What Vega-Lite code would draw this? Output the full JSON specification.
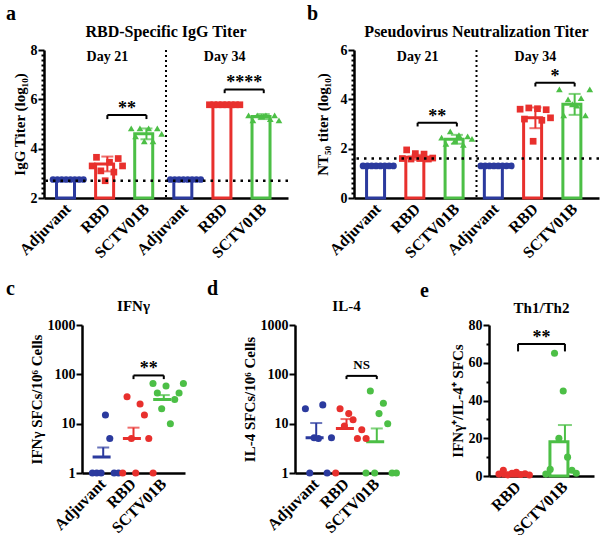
{
  "$schema": "https://vega.github.io/schema/vega-lite/v6.json",
  "padding": {"left": 6, "top": 4, "right": 0, "bottom": 0},
  "config": {
    "font": "Liberation Serif",
    "view": {"stroke": null},
    "axis": {"domainColor": "black", "domainWidth": 2.5, "tickColor": "black", "tickWidth": 2, "tickSize": 6, "labelFont": "Liberation Serif", "labelFontWeight": "bold", "labelFontSize": 14, "labelColor": "black", "titleFont": "Liberation Serif", "titleFontWeight": "bold", "titleFontSize": 15, "titleColor": "black", "grid": false, "labelFlush": false, "labelOverlap": false},
    "axisY": {"labelPadding": 1, "titlePadding": 3},
    "axisX": {"labelFontSize": 16, "labelPadding": 8},
    "title": {"font": "Liberation Serif", "fontWeight": "bold", "color": "black"}
  },
  "datasets": {
    "none": [],
    "aSum": [
      {"slot": "A21", "grp": "Adjuvant", "v": 2.75, "lo": 2.75, "hi": 2.75},
      {"slot": "R21", "grp": "RBD", "v": 3.38, "lo": 3.08, "hi": 3.68},
      {"slot": "S21", "grp": "SCTV01B", "v": 4.6, "lo": 4.38, "hi": 4.82},
      {"slot": "A34", "grp": "Adjuvant", "v": 2.75, "lo": 2.75, "hi": 2.75},
      {"slot": "R34", "grp": "RBD", "v": 5.8, "lo": 5.78, "hi": 5.82},
      {"slot": "S34", "grp": "SCTV01B", "v": 5.3, "lo": 5.2, "hi": 5.4}
    ],
    "aPts": [
      {"slot": "A21", "grp": "Adjuvant", "id": 1, "v": 2.75}, {"slot": "A21", "grp": "Adjuvant", "id": 2, "v": 2.75}, {"slot": "A21", "grp": "Adjuvant", "id": 3, "v": 2.75}, {"slot": "A21", "grp": "Adjuvant", "id": 4, "v": 2.75},
      {"slot": "A21", "grp": "Adjuvant", "id": 5, "v": 2.75}, {"slot": "A21", "grp": "Adjuvant", "id": 6, "v": 2.75}, {"slot": "A21", "grp": "Adjuvant", "id": 7, "v": 2.75}, {"slot": "A21", "grp": "Adjuvant", "id": 8, "v": 2.75},
      {"slot": "R21", "grp": "RBD", "id": 1, "v": 3.3}, {"slot": "R21", "grp": "RBD", "id": 2, "v": 3.65}, {"slot": "R21", "grp": "RBD", "id": 3, "v": 3.1}, {"slot": "R21", "grp": "RBD", "id": 4, "v": 2.7},
      {"slot": "R21", "grp": "RBD", "id": 5, "v": 3.45}, {"slot": "R21", "grp": "RBD", "id": 6, "v": 3.05}, {"slot": "R21", "grp": "RBD", "id": 7, "v": 3.6}, {"slot": "R21", "grp": "RBD", "id": 8, "v": 3.3},
      {"slot": "S21", "grp": "SCTV01B", "id": 1, "v": 4.82}, {"slot": "S21", "grp": "SCTV01B", "id": 2, "v": 4.5}, {"slot": "S21", "grp": "SCTV01B", "id": 3, "v": 4.82}, {"slot": "S21", "grp": "SCTV01B", "id": 4, "v": 4.3},
      {"slot": "S21", "grp": "SCTV01B", "id": 5, "v": 4.82}, {"slot": "S21", "grp": "SCTV01B", "id": 6, "v": 4.3}, {"slot": "S21", "grp": "SCTV01B", "id": 7, "v": 4.82}, {"slot": "S21", "grp": "SCTV01B", "id": 8, "v": 4.6},
      {"slot": "A34", "grp": "Adjuvant", "id": 1, "v": 2.75}, {"slot": "A34", "grp": "Adjuvant", "id": 2, "v": 2.75}, {"slot": "A34", "grp": "Adjuvant", "id": 3, "v": 2.75}, {"slot": "A34", "grp": "Adjuvant", "id": 4, "v": 2.75},
      {"slot": "A34", "grp": "Adjuvant", "id": 5, "v": 2.75}, {"slot": "A34", "grp": "Adjuvant", "id": 6, "v": 2.75}, {"slot": "A34", "grp": "Adjuvant", "id": 7, "v": 2.75}, {"slot": "A34", "grp": "Adjuvant", "id": 8, "v": 2.75},
      {"slot": "R34", "grp": "RBD", "id": 1, "v": 5.78}, {"slot": "R34", "grp": "RBD", "id": 2, "v": 5.78}, {"slot": "R34", "grp": "RBD", "id": 3, "v": 5.78}, {"slot": "R34", "grp": "RBD", "id": 4, "v": 5.78},
      {"slot": "R34", "grp": "RBD", "id": 5, "v": 5.78}, {"slot": "R34", "grp": "RBD", "id": 6, "v": 5.78}, {"slot": "R34", "grp": "RBD", "id": 7, "v": 5.78}, {"slot": "R34", "grp": "RBD", "id": 8, "v": 5.78},
      {"slot": "S34", "grp": "SCTV01B", "id": 1, "v": 5.35}, {"slot": "S34", "grp": "SCTV01B", "id": 2, "v": 5.15}, {"slot": "S34", "grp": "SCTV01B", "id": 3, "v": 5.35}, {"slot": "S34", "grp": "SCTV01B", "id": 4, "v": 5.3},
      {"slot": "S34", "grp": "SCTV01B", "id": 5, "v": 5.35}, {"slot": "S34", "grp": "SCTV01B", "id": 6, "v": 5.2}, {"slot": "S34", "grp": "SCTV01B", "id": 7, "v": 5.35}, {"slot": "S34", "grp": "SCTV01B", "id": 8, "v": 5.15}
    ],
    "aBr": [
      {"from": "R21", "to": "S21", "v": 5.36, "ve": 5.2, "sig": "**"},
      {"from": "R34", "to": "S34", "v": 6.4, "ve": 6.25, "sig": "****"}
    ],
    "aDay": [{"slot": "R21", "label": "Day 21", "v": 7.55}, {"slot": "R34", "label": "Day 34", "v": 7.55}],
    "aLod": [{"v": 2.7}],
    "sep": [{"slot": "A34"}],
    "bSum": [
      {"slot": "A21", "grp": "Adjuvant", "v": 1.3, "lo": 1.3, "hi": 1.3},
      {"slot": "R21", "grp": "RBD", "v": 1.65, "lo": 1.55, "hi": 1.75},
      {"slot": "S21", "grp": "SCTV01B", "v": 2.38, "lo": 2.2, "hi": 2.56},
      {"slot": "A34", "grp": "Adjuvant", "v": 1.3, "lo": 1.3, "hi": 1.3},
      {"slot": "R34", "grp": "RBD", "v": 3.25, "lo": 2.83, "hi": 3.67},
      {"slot": "S34", "grp": "SCTV01B", "v": 3.8, "lo": 3.37, "hi": 4.22}
    ],
    "bPts": [
      {"slot": "A21", "grp": "Adjuvant", "id": 1, "v": 1.3}, {"slot": "A21", "grp": "Adjuvant", "id": 2, "v": 1.3}, {"slot": "A21", "grp": "Adjuvant", "id": 3, "v": 1.3}, {"slot": "A21", "grp": "Adjuvant", "id": 4, "v": 1.3},
      {"slot": "A21", "grp": "Adjuvant", "id": 5, "v": 1.3}, {"slot": "A21", "grp": "Adjuvant", "id": 6, "v": 1.3}, {"slot": "A21", "grp": "Adjuvant", "id": 7, "v": 1.3}, {"slot": "A21", "grp": "Adjuvant", "id": 8, "v": 1.3},
      {"slot": "R21", "grp": "RBD", "id": 1, "v": 1.6}, {"slot": "R21", "grp": "RBD", "id": 2, "v": 1.95}, {"slot": "R21", "grp": "RBD", "id": 3, "v": 1.58}, {"slot": "R21", "grp": "RBD", "id": 4, "v": 1.8},
      {"slot": "R21", "grp": "RBD", "id": 5, "v": 1.6}, {"slot": "R21", "grp": "RBD", "id": 6, "v": 1.78}, {"slot": "R21", "grp": "RBD", "id": 7, "v": 1.58}, {"slot": "R21", "grp": "RBD", "id": 8, "v": 1.62},
      {"slot": "S21", "grp": "SCTV01B", "id": 1, "v": 2.45}, {"slot": "S21", "grp": "SCTV01B", "id": 2, "v": 2.2}, {"slot": "S21", "grp": "SCTV01B", "id": 3, "v": 2.7}, {"slot": "S21", "grp": "SCTV01B", "id": 4, "v": 2.3},
      {"slot": "S21", "grp": "SCTV01B", "id": 5, "v": 2.55}, {"slot": "S21", "grp": "SCTV01B", "id": 6, "v": 2.15}, {"slot": "S21", "grp": "SCTV01B", "id": 7, "v": 2.5}, {"slot": "S21", "grp": "SCTV01B", "id": 8, "v": 2.4},
      {"slot": "A34", "grp": "Adjuvant", "id": 1, "v": 1.3}, {"slot": "A34", "grp": "Adjuvant", "id": 2, "v": 1.3}, {"slot": "A34", "grp": "Adjuvant", "id": 3, "v": 1.3}, {"slot": "A34", "grp": "Adjuvant", "id": 4, "v": 1.3},
      {"slot": "A34", "grp": "Adjuvant", "id": 5, "v": 1.3}, {"slot": "A34", "grp": "Adjuvant", "id": 6, "v": 1.3}, {"slot": "A34", "grp": "Adjuvant", "id": 7, "v": 1.3}, {"slot": "A34", "grp": "Adjuvant", "id": 8, "v": 1.3},
      {"slot": "R34", "grp": "RBD", "id": 1, "v": 3.6}, {"slot": "R34", "grp": "RBD", "id": 2, "v": 3.2}, {"slot": "R34", "grp": "RBD", "id": 3, "v": 3.65}, {"slot": "R34", "grp": "RBD", "id": 4, "v": 2.3},
      {"slot": "R34", "grp": "RBD", "id": 5, "v": 3.62}, {"slot": "R34", "grp": "RBD", "id": 6, "v": 3.15}, {"slot": "R34", "grp": "RBD", "id": 7, "v": 3.58}, {"slot": "R34", "grp": "RBD", "id": 8, "v": 3.25},
      {"slot": "S34", "grp": "SCTV01B", "id": 1, "v": 4.4}, {"slot": "S34", "grp": "SCTV01B", "id": 2, "v": 3.35}, {"slot": "S34", "grp": "SCTV01B", "id": 3, "v": 4.0}, {"slot": "S34", "grp": "SCTV01B", "id": 4, "v": 3.8},
      {"slot": "S34", "grp": "SCTV01B", "id": 5, "v": 3.75}, {"slot": "S34", "grp": "SCTV01B", "id": 6, "v": 4.05}, {"slot": "S34", "grp": "SCTV01B", "id": 7, "v": 3.35}, {"slot": "S34", "grp": "SCTV01B", "id": 8, "v": 4.4}
    ],
    "bBr": [
      {"from": "R21", "to": "S21", "v": 3.05, "ve": 2.9, "sig": "**"},
      {"from": "R34", "to": "S34", "v": 4.67, "ve": 4.52, "sig": "*"}
    ],
    "bDay": [{"slot": "R21", "label": "Day 21", "v": 5.55}, {"slot": "R34", "label": "Day 34", "v": 5.55}],
    "bLod": [{"v": 1.6}],
    "cSum": [
      {"slot": "Adjuvant", "grp": "Adjuvant", "v": 2.1, "lo": 2.1, "hi": 3.3},
      {"slot": "RBD", "grp": "RBD", "v": 5, "lo": 5, "hi": 8.3},
      {"slot": "SCTV01B", "grp": "SCTV01B", "v": 31, "lo": 31, "hi": 38}
    ],
    "cPts": [
      {"slot": "Adjuvant", "grp": "Adjuvant", "id": 1, "v": 1}, {"slot": "Adjuvant", "grp": "Adjuvant", "id": 2, "v": 1}, {"slot": "Adjuvant", "grp": "Adjuvant", "id": 3, "v": 1}, {"slot": "Adjuvant", "grp": "Adjuvant", "id": 4, "v": 15},
      {"slot": "Adjuvant", "grp": "Adjuvant", "id": 5, "v": 5}, {"slot": "Adjuvant", "grp": "Adjuvant", "id": 6, "v": 1}, {"slot": "Adjuvant", "grp": "Adjuvant", "id": 7, "v": 1},
      {"slot": "RBD", "grp": "RBD", "id": 1, "v": 1}, {"slot": "RBD", "grp": "RBD", "id": 2, "v": 35}, {"slot": "RBD", "grp": "RBD", "id": 3, "v": 5}, {"slot": "RBD", "grp": "RBD", "id": 4, "v": 1},
      {"slot": "RBD", "grp": "RBD", "id": 5, "v": 25}, {"slot": "RBD", "grp": "RBD", "id": 6, "v": 15}, {"slot": "RBD", "grp": "RBD", "id": 7, "v": 5}, {"slot": "RBD", "grp": "RBD", "id": 8, "v": 1},
      {"slot": "SCTV01B", "grp": "SCTV01B", "id": 1, "v": 65}, {"slot": "SCTV01B", "grp": "SCTV01B", "id": 2, "v": 42}, {"slot": "SCTV01B", "grp": "SCTV01B", "id": 3, "v": 20}, {"slot": "SCTV01B", "grp": "SCTV01B", "id": 4, "v": 58},
      {"slot": "SCTV01B", "grp": "SCTV01B", "id": 5, "v": 10}, {"slot": "SCTV01B", "grp": "SCTV01B", "id": 6, "v": 31}, {"slot": "SCTV01B", "grp": "SCTV01B", "id": 7, "v": 42}, {"slot": "SCTV01B", "grp": "SCTV01B", "id": 8, "v": 65}
    ],
    "cBr": [{"from": "RBD", "to": "SCTV01B", "v": 95, "ve": 80, "sig": "**"}],
    "dSum": [
      {"slot": "Adjuvant", "grp": "Adjuvant", "v": 5.2, "lo": 5.2, "hi": 10.3},
      {"slot": "RBD", "grp": "RBD", "v": 8, "lo": 8, "hi": 12.4},
      {"slot": "SCTV01B", "grp": "SCTV01B", "v": 4.3, "lo": 4.3, "hi": 8}
    ],
    "dPts": [
      {"slot": "Adjuvant", "grp": "Adjuvant", "id": 1, "v": 20}, {"slot": "Adjuvant", "grp": "Adjuvant", "id": 2, "v": 1}, {"slot": "Adjuvant", "grp": "Adjuvant", "id": 3, "v": 5.2}, {"slot": "Adjuvant", "grp": "Adjuvant", "id": 4, "v": 5},
      {"slot": "Adjuvant", "grp": "Adjuvant", "id": 5, "v": 24}, {"slot": "Adjuvant", "grp": "Adjuvant", "id": 6, "v": 1}, {"slot": "Adjuvant", "grp": "Adjuvant", "id": 7, "v": 5.2},
      {"slot": "RBD", "grp": "RBD", "id": 1, "v": 1}, {"slot": "RBD", "grp": "RBD", "id": 2, "v": 20}, {"slot": "RBD", "grp": "RBD", "id": 3, "v": 9}, {"slot": "RBD", "grp": "RBD", "id": 4, "v": 16},
      {"slot": "RBD", "grp": "RBD", "id": 5, "v": 12}, {"slot": "RBD", "grp": "RBD", "id": 6, "v": 5}, {"slot": "RBD", "grp": "RBD", "id": 7, "v": 7.5}, {"slot": "RBD", "grp": "RBD", "id": 8, "v": 5},
      {"slot": "SCTV01B", "grp": "SCTV01B", "id": 1, "v": 1}, {"slot": "SCTV01B", "grp": "SCTV01B", "id": 2, "v": 46}, {"slot": "SCTV01B", "grp": "SCTV01B", "id": 3, "v": 1}, {"slot": "SCTV01B", "grp": "SCTV01B", "id": 4, "v": 16},
      {"slot": "SCTV01B", "grp": "SCTV01B", "id": 5, "v": 26}, {"slot": "SCTV01B", "grp": "SCTV01B", "id": 6, "v": 10}, {"slot": "SCTV01B", "grp": "SCTV01B", "id": 7, "v": 1}, {"slot": "SCTV01B", "grp": "SCTV01B", "id": 8, "v": 1}
    ],
    "dBr": [{"from": "RBD", "to": "SCTV01B", "v": 93, "ve": 80, "sig": "NS"}],
    "eSum": [
      {"slot": "RBD", "grp": "RBD", "v": 1.4, "lo": 1.4, "hi": 1.4},
      {"slot": "SCTV01B", "grp": "SCTV01B", "v": 18.1, "lo": 18.1, "hi": 27}
    ],
    "ePts": [
      {"slot": "RBD", "grp": "RBD", "id": 1, "v": 1}, {"slot": "RBD", "grp": "RBD", "id": 2, "v": 3}, {"slot": "RBD", "grp": "RBD", "id": 3, "v": 0.6}, {"slot": "RBD", "grp": "RBD", "id": 4, "v": 1.5},
      {"slot": "RBD", "grp": "RBD", "id": 5, "v": 2}, {"slot": "RBD", "grp": "RBD", "id": 6, "v": 0.8}, {"slot": "RBD", "grp": "RBD", "id": 7, "v": 1.2}, {"slot": "RBD", "grp": "RBD", "id": 8, "v": 0.5},
      {"slot": "SCTV01B", "grp": "SCTV01B", "id": 1, "v": 1}, {"slot": "SCTV01B", "grp": "SCTV01B", "id": 2, "v": 3.5}, {"slot": "SCTV01B", "grp": "SCTV01B", "id": 3, "v": 65}, {"slot": "SCTV01B", "grp": "SCTV01B", "id": 4, "v": 20},
      {"slot": "SCTV01B", "grp": "SCTV01B", "id": 5, "v": 45}, {"slot": "SCTV01B", "grp": "SCTV01B", "id": 6, "v": 10}, {"slot": "SCTV01B", "grp": "SCTV01B", "id": 7, "v": 3}, {"slot": "SCTV01B", "grp": "SCTV01B", "id": 8, "v": 1.5}
    ],
    "eBr": [{"from": "RBD", "to": "SCTV01B", "v": 70, "ve": 66, "sig": "**"}]
  },
  "spacing": 18,
  "vconcat": [
    {
      "spacing": 17,
      "hconcat": [
        {
          "title": {"text": "a", "anchor": "start", "fontSize": 20, "offset": 0},
          "spacing": 0,
          "hconcat": [
            {"data": {"name": "none"}, "mark": "point", "width": 6, "height": 10},
            {
            "title": {"text": "RBD-Specific IgG Titer", "fontSize": 16, "offset": 3},
            "width": 244, "height": 148,
            "layer": [
              {"data": {"name": "aSum"}, "mark": {"type": "bar", "fill": "white", "strokeWidth": 3, "width": {"band": 0.6}},
               "encoding": {
                 "x": {"field": "slot", "type": "nominal", "scale": {"domain": ["A21", "R21", "S21", "A34", "R34", "S34"], "paddingInner": 0, "paddingOuter": 0.12},
                       "axis": {"title": null, "labelAngle": -45, "labelAlign": "right", "labelBaseline": "middle", "ticks": false, "labelExpr": "substring(datum.value,0,1)=='A' ? 'Adjuvant' : substring(datum.value,0,1)=='R' ? 'RBD' : 'SCTV01B'"}},
                 "y": {"field": "v", "type": "quantitative", "scale": {"domain": [2, 8], "nice": false, "zero": false, "clamp": true},
                       "axis": {"title": "IgG Titer (log₁₀)", "labelOverlap": false, "tickCount": 200, "values": [2,2.2,2.4,2.6,2.8,3,3.2,3.4,3.6,3.8,4,4.2,4.4,4.6,4.8,5,5.2,5.4,5.6,5.8,6,6.2,6.4,6.6,6.8,7,7.2,7.4,7.6,7.8,8],
                                "labelExpr": "datum.value % 2 == 0 ? format(datum.value, 'd') : ''", "tickDash": {"condition": {"test": "datum.value % 2 == 0", "value": [6, 0]}, "value": [3, 10]}}},
                 "stroke": {"field": "grp", "type": "nominal", "scale": {"domain": ["Adjuvant", "RBD", "SCTV01B"], "range": ["#2b3a9e", "#e8302d", "#4cbf46"]}, "legend": null}
               }},
              {"data": {"name": "aSum"}, "mark": {"type": "rule", "strokeWidth": 2},
               "encoding": {"x": {"field": "slot", "type": "nominal"}, "y": {"field": "lo", "type": "quantitative"}, "y2": {"field": "hi"},
                 "color": {"field": "grp", "type": "nominal", "scale": {"domain": ["Adjuvant", "RBD", "SCTV01B"], "range": ["#2b3a9e", "#e8302d", "#4cbf46"]}, "legend": null}}},
              {"data": {"name": "aSum"}, "mark": {"type": "tick", "thickness": 2, "size": 12},
               "encoding": {"x": {"field": "slot", "type": "nominal"}, "y": {"field": "hi", "type": "quantitative"},
                 "color": {"field": "grp", "type": "nominal", "scale": {"domain": ["Adjuvant", "RBD", "SCTV01B"], "range": ["#2b3a9e", "#e8302d", "#4cbf46"]}, "legend": null}}},
              {"data": {"name": "aSum"}, "mark": {"type": "tick", "thickness": 2, "size": 12},
               "encoding": {"x": {"field": "slot", "type": "nominal"}, "y": {"field": "lo", "type": "quantitative"},
                 "color": {"field": "grp", "type": "nominal", "scale": {"domain": ["Adjuvant", "RBD", "SCTV01B"], "range": ["#2b3a9e", "#e8302d", "#4cbf46"]}, "legend": null}}},
              {"data": {"name": "aPts"}, "mark": {"type": "point", "filled": true, "size": 45, "opacity": 1},
               "encoding": {"x": {"field": "slot", "type": "nominal"}, "xOffset": {"field": "id", "type": "ordinal", "scale": {"type": "point", "padding": 5}},
                 "y": {"field": "v", "type": "quantitative"},
                 "color": {"field": "grp", "type": "nominal", "scale": {"domain": ["Adjuvant", "RBD", "SCTV01B"], "range": ["#2b3a9e", "#e8302d", "#4cbf46"]}, "legend": null},
                 "shape": {"field": "grp", "type": "nominal", "scale": {"domain": ["Adjuvant", "RBD", "SCTV01B"], "range": ["circle", "square", "triangle-up"]}, "legend": null}}},
              {"data": {"name": "aLod"}, "mark": {"type": "rule", "strokeDash": [2.5, 5], "strokeWidth": 2.5, "color": "black"},
               "encoding": {"y": {"field": "v", "type": "quantitative"}}},
              {"data": {"name": "sep"}, "mark": {"type": "rule", "strokeDash": [2, 3], "strokeWidth": 2, "color": "black"},
               "encoding": {"x": {"field": "slot", "type": "nominal", "bandPosition": 0}}},
              {"data": {"name": "aDay"}, "mark": {"type": "text", "fontSize": 14, "fontWeight": "bold", "baseline": "alphabetic", "color": "black"},
               "encoding": {"x": {"field": "slot", "type": "nominal"}, "y": {"field": "v", "type": "quantitative"}, "text": {"field": "label"}}},
              {"data": {"name": "aBr"}, "mark": {"type": "rule", "strokeWidth": 2, "color": "black"},
               "encoding": {"x": {"field": "from", "type": "nominal"}, "x2": {"field": "to"}, "y": {"field": "v", "type": "quantitative"}}},
              {"data": {"name": "aBr"}, "mark": {"type": "rule", "strokeWidth": 2, "color": "black"},
               "encoding": {"x": {"field": "from", "type": "nominal"}, "y": {"field": "v", "type": "quantitative"}, "y2": {"field": "ve"}}},
              {"data": {"name": "aBr"}, "mark": {"type": "rule", "strokeWidth": 2, "color": "black"},
               "encoding": {"x": {"field": "to", "type": "nominal"}, "y": {"field": "v", "type": "quantitative"}, "y2": {"field": "ve"}}},
              {"data": {"name": "aBr"}, "mark": {"type": "text", "fontSize": 18, "fontWeight": "bold", "baseline": "alphabetic", "dy": -1, "color": "black"},
               "encoding": {"x": {"field": "to", "type": "nominal", "bandPosition": 0}, "y": {"field": "v", "type": "quantitative"}, "text": {"field": "sig"}}}
            ]
          }]
        },
        {
          "title": {"text": "b", "anchor": "start", "fontSize": 20, "offset": 0},
          "spacing": 0,
          "hconcat": [
            {"data": {"name": "none"}, "mark": "point", "width": 8, "height": 10},
            {
            "title": {"text": "Pseudovirus Neutralization Titer", "fontSize": 16, "offset": 3},
            "width": 245, "height": 148,
            "layer": [
              {"data": {"name": "bSum"}, "mark": {"type": "bar", "fill": "white", "strokeWidth": 3, "width": {"band": 0.6}},
               "encoding": {
                 "x": {"field": "slot", "type": "nominal", "scale": {"domain": ["A21", "R21", "S21", "A34", "R34", "S34"], "paddingInner": 0, "paddingOuter": 0.12},
                       "axis": {"title": null, "labelAngle": -45, "labelAlign": "right", "labelBaseline": "middle", "ticks": false, "labelExpr": "substring(datum.value,0,1)=='A' ? 'Adjuvant' : substring(datum.value,0,1)=='R' ? 'RBD' : 'SCTV01B'"}},
                 "y": {"field": "v", "type": "quantitative", "scale": {"domain": [0, 6], "nice": false},
                       "axis": {"title": "NT₅₀ titer (log₁₀)", "titlePadding": 10, "labelOverlap": false, "tickCount": 200, "values": [0,0.2,0.4,0.6,0.8,1,1.2,1.4,1.6,1.8,2,2.2,2.4,2.6,2.8,3,3.2,3.4,3.6,3.8,4,4.2,4.4,4.6,4.8,5,5.2,5.4,5.6,5.8,6],
                                "labelExpr": "datum.value % 2 == 0 ? format(datum.value, 'd') : ''", "tickDash": {"condition": {"test": "datum.value % 2 == 0", "value": [6, 0]}, "value": [3, 10]}}},
                 "stroke": {"field": "grp", "type": "nominal", "scale": {"domain": ["Adjuvant", "RBD", "SCTV01B"], "range": ["#2b3a9e", "#e8302d", "#4cbf46"]}, "legend": null}
               }},
              {"data": {"name": "bSum"}, "mark": {"type": "rule", "strokeWidth": 2},
               "encoding": {"x": {"field": "slot", "type": "nominal"}, "y": {"field": "lo", "type": "quantitative"}, "y2": {"field": "hi"},
                 "color": {"field": "grp", "type": "nominal", "scale": {"domain": ["Adjuvant", "RBD", "SCTV01B"], "range": ["#2b3a9e", "#e8302d", "#4cbf46"]}, "legend": null}}},
              {"data": {"name": "bSum"}, "mark": {"type": "tick", "thickness": 2, "size": 12},
               "encoding": {"x": {"field": "slot", "type": "nominal"}, "y": {"field": "hi", "type": "quantitative"},
                 "color": {"field": "grp", "type": "nominal", "scale": {"domain": ["Adjuvant", "RBD", "SCTV01B"], "range": ["#2b3a9e", "#e8302d", "#4cbf46"]}, "legend": null}}},
              {"data": {"name": "bSum"}, "mark": {"type": "tick", "thickness": 2, "size": 12},
               "encoding": {"x": {"field": "slot", "type": "nominal"}, "y": {"field": "lo", "type": "quantitative"},
                 "color": {"field": "grp", "type": "nominal", "scale": {"domain": ["Adjuvant", "RBD", "SCTV01B"], "range": ["#2b3a9e", "#e8302d", "#4cbf46"]}, "legend": null}}},
              {"data": {"name": "bPts"}, "mark": {"type": "point", "filled": true, "size": 45, "opacity": 1},
               "encoding": {"x": {"field": "slot", "type": "nominal"}, "xOffset": {"field": "id", "type": "ordinal", "scale": {"type": "point", "padding": 5}},
                 "y": {"field": "v", "type": "quantitative"},
                 "color": {"field": "grp", "type": "nominal", "scale": {"domain": ["Adjuvant", "RBD", "SCTV01B"], "range": ["#2b3a9e", "#e8302d", "#4cbf46"]}, "legend": null},
                 "shape": {"field": "grp", "type": "nominal", "scale": {"domain": ["Adjuvant", "RBD", "SCTV01B"], "range": ["circle", "square", "triangle-up"]}, "legend": null}}},
              {"data": {"name": "bLod"}, "mark": {"type": "rule", "strokeDash": [2.5, 5], "strokeWidth": 2.5, "color": "black"},
               "encoding": {"y": {"field": "v", "type": "quantitative"}}},
              {"data": {"name": "sep"}, "mark": {"type": "rule", "strokeDash": [2, 3], "strokeWidth": 2, "color": "black"},
               "encoding": {"x": {"field": "slot", "type": "nominal", "bandPosition": 0}}},
              {"data": {"name": "bDay"}, "mark": {"type": "text", "fontSize": 14, "fontWeight": "bold", "baseline": "alphabetic", "color": "black"},
               "encoding": {"x": {"field": "slot", "type": "nominal"}, "y": {"field": "v", "type": "quantitative"}, "text": {"field": "label"}}},
              {"data": {"name": "bBr"}, "mark": {"type": "rule", "strokeWidth": 2, "color": "black"},
               "encoding": {"x": {"field": "from", "type": "nominal"}, "x2": {"field": "to"}, "y": {"field": "v", "type": "quantitative"}}},
              {"data": {"name": "bBr"}, "mark": {"type": "rule", "strokeWidth": 2, "color": "black"},
               "encoding": {"x": {"field": "from", "type": "nominal"}, "y": {"field": "v", "type": "quantitative"}, "y2": {"field": "ve"}}},
              {"data": {"name": "bBr"}, "mark": {"type": "rule", "strokeWidth": 2, "color": "black"},
               "encoding": {"x": {"field": "to", "type": "nominal"}, "y": {"field": "v", "type": "quantitative"}, "y2": {"field": "ve"}}},
              {"data": {"name": "bBr"}, "mark": {"type": "text", "fontSize": 18, "fontWeight": "bold", "baseline": "alphabetic", "dy": -1, "color": "black"},
               "encoding": {"x": {"field": "to", "type": "nominal", "bandPosition": 0}, "y": {"field": "v", "type": "quantitative"}, "text": {"field": "sig"}}}
            ]
          }]
        }
      ]
    },
    {
      "spacing": 20,
      "hconcat": [
        {
          "title": {"text": "c", "anchor": "start", "fontSize": 20, "offset": 0},
          "spacing": 0,
          "hconcat": [
            {"data": {"name": "none"}, "mark": "point", "width": 22, "height": 10},
            {
            "title": {"text": "IFNγ", "fontSize": 15, "offset": 4},
            "width": 103, "height": 148,
            "layer": [
              {"data": {"name": "cSum"}, "mark": {"type": "bar", "fill": "white", "strokeWidth": 3, "width": {"band": 0.7}},
               "encoding": {
                 "x": {"field": "slot", "type": "nominal", "scale": {"domain": ["Adjuvant", "RBD", "SCTV01B"], "paddingInner": 0, "paddingOuter": 0.2},
                       "axis": {"title": null, "labelAngle": -45, "labelAlign": "right", "labelBaseline": "middle", "ticks": false}},
                 "y": {"field": "v", "type": "quantitative", "scale": {"type": "log", "domain": [1, 1000], "nice": false},
                       "axis": {"title": "IFNγ SFCs/10⁶ Cells", "values": [1, 10, 100, 1000], "format": "d"}},
                 "stroke": {"field": "grp", "type": "nominal", "scale": {"domain": ["Adjuvant", "RBD", "SCTV01B"], "range": ["#2b3a9e", "#e8302d", "#4cbf46"]}, "legend": null}
               }},
              {"data": {"name": "cSum"}, "mark": {"type": "rule", "strokeWidth": 2},
               "encoding": {"x": {"field": "slot", "type": "nominal"}, "y": {"field": "lo", "type": "quantitative"}, "y2": {"field": "hi"},
                 "color": {"field": "grp", "type": "nominal", "scale": {"domain": ["Adjuvant", "RBD", "SCTV01B"], "range": ["#2b3a9e", "#e8302d", "#4cbf46"]}, "legend": null}}},
              {"data": {"name": "cSum"}, "mark": {"type": "tick", "thickness": 2, "size": 12},
               "encoding": {"x": {"field": "slot", "type": "nominal"}, "y": {"field": "hi", "type": "quantitative"},
                 "color": {"field": "grp", "type": "nominal", "scale": {"domain": ["Adjuvant", "RBD", "SCTV01B"], "range": ["#2b3a9e", "#e8302d", "#4cbf46"]}, "legend": null}}},
              {"data": {"name": "cPts"}, "mark": {"type": "circle", "size": 50, "opacity": 1},
               "encoding": {"x": {"field": "slot", "type": "nominal"}, "xOffset": {"field": "id", "type": "ordinal", "scale": {"type": "point", "padding": 3.5}},
                 "y": {"field": "v", "type": "quantitative"},
                 "color": {"field": "grp", "type": "nominal", "scale": {"domain": ["Adjuvant", "RBD", "SCTV01B"], "range": ["#2b3a9e", "#e8302d", "#4cbf46"]}, "legend": null}}},
              {"data": {"name": "cBr"}, "mark": {"type": "rule", "strokeWidth": 2, "color": "black"},
               "encoding": {"x": {"field": "from", "type": "nominal"}, "x2": {"field": "to"}, "y": {"field": "v", "type": "quantitative"}}},
              {"data": {"name": "cBr"}, "mark": {"type": "rule", "strokeWidth": 2, "color": "black"},
               "encoding": {"x": {"field": "from", "type": "nominal"}, "y": {"field": "v", "type": "quantitative"}, "y2": {"field": "ve"}}},
              {"data": {"name": "cBr"}, "mark": {"type": "rule", "strokeWidth": 2, "color": "black"},
               "encoding": {"x": {"field": "to", "type": "nominal"}, "y": {"field": "v", "type": "quantitative"}, "y2": {"field": "ve"}}},
              {"data": {"name": "cBr"}, "mark": {"type": "text", "fontSize": 18, "fontWeight": "bold", "baseline": "alphabetic", "dy": -1, "color": "black"},
               "encoding": {"x": {"field": "to", "type": "nominal", "bandPosition": 0}, "y": {"field": "v", "type": "quantitative"}, "text": {"field": "sig"}}}
            ]
          }]
        },
        {
          "title": {"text": "d", "anchor": "start", "fontSize": 20, "offset": 0},
          "spacing": 0,
          "hconcat": [
            {"data": {"name": "none"}, "mark": "point", "width": 34, "height": 10},
            {
            "title": {"text": "IL-4", "fontSize": 15, "offset": 4},
            "width": 103, "height": 148,
            "layer": [
              {"data": {"name": "dSum"}, "mark": {"type": "bar", "fill": "white", "strokeWidth": 3, "width": {"band": 0.7}},
               "encoding": {
                 "x": {"field": "slot", "type": "nominal", "scale": {"domain": ["Adjuvant", "RBD", "SCTV01B"], "paddingInner": 0, "paddingOuter": 0.2},
                       "axis": {"title": null, "labelAngle": -45, "labelAlign": "right", "labelBaseline": "middle", "ticks": false}},
                 "y": {"field": "v", "type": "quantitative", "scale": {"type": "log", "domain": [1, 1000], "nice": false},
                       "axis": {"title": "IL-4 SFCs/10⁶ Cells", "values": [1, 10, 100, 1000], "format": "d"}},
                 "stroke": {"field": "grp", "type": "nominal", "scale": {"domain": ["Adjuvant", "RBD", "SCTV01B"], "range": ["#2b3a9e", "#e8302d", "#4cbf46"]}, "legend": null}
               }},
              {"data": {"name": "dSum"}, "mark": {"type": "rule", "strokeWidth": 2},
               "encoding": {"x": {"field": "slot", "type": "nominal"}, "y": {"field": "lo", "type": "quantitative"}, "y2": {"field": "hi"},
                 "color": {"field": "grp", "type": "nominal", "scale": {"domain": ["Adjuvant", "RBD", "SCTV01B"], "range": ["#2b3a9e", "#e8302d", "#4cbf46"]}, "legend": null}}},
              {"data": {"name": "dSum"}, "mark": {"type": "tick", "thickness": 2, "size": 12},
               "encoding": {"x": {"field": "slot", "type": "nominal"}, "y": {"field": "hi", "type": "quantitative"},
                 "color": {"field": "grp", "type": "nominal", "scale": {"domain": ["Adjuvant", "RBD", "SCTV01B"], "range": ["#2b3a9e", "#e8302d", "#4cbf46"]}, "legend": null}}},
              {"data": {"name": "dPts"}, "mark": {"type": "circle", "size": 50, "opacity": 1},
               "encoding": {"x": {"field": "slot", "type": "nominal"}, "xOffset": {"field": "id", "type": "ordinal", "scale": {"type": "point", "padding": 3.5}},
                 "y": {"field": "v", "type": "quantitative"},
                 "color": {"field": "grp", "type": "nominal", "scale": {"domain": ["Adjuvant", "RBD", "SCTV01B"], "range": ["#2b3a9e", "#e8302d", "#4cbf46"]}, "legend": null}}},
              {"data": {"name": "dBr"}, "mark": {"type": "rule", "strokeWidth": 2, "color": "black"},
               "encoding": {"x": {"field": "from", "type": "nominal"}, "x2": {"field": "to"}, "y": {"field": "v", "type": "quantitative"}}},
              {"data": {"name": "dBr"}, "mark": {"type": "rule", "strokeWidth": 2, "color": "black"},
               "encoding": {"x": {"field": "from", "type": "nominal"}, "y": {"field": "v", "type": "quantitative"}, "y2": {"field": "ve"}}},
              {"data": {"name": "dBr"}, "mark": {"type": "rule", "strokeWidth": 2, "color": "black"},
               "encoding": {"x": {"field": "to", "type": "nominal"}, "y": {"field": "v", "type": "quantitative"}, "y2": {"field": "ve"}}},
              {"data": {"name": "dBr"}, "mark": {"type": "text", "fontSize": 13, "fontWeight": "bold", "baseline": "alphabetic", "dy": -7, "color": "black"},
               "encoding": {"x": {"field": "to", "type": "nominal", "bandPosition": 0}, "y": {"field": "v", "type": "quantitative"}, "text": {"field": "sig"}}}
            ]
          }]
        },
        {
          "title": {"text": "e", "anchor": "start", "fontSize": 20, "offset": 0},
          "spacing": 0,
          "hconcat": [
            {"data": {"name": "none"}, "mark": "point", "width": 30, "height": 10},
            {
            "title": {"text": "Th1/Th2", "fontSize": 15, "offset": 2},
            "width": 105, "height": 151,
            "layer": [
              {"data": {"name": "eSum"}, "mark": {"type": "bar", "fill": "white", "strokeWidth": 3, "width": {"band": 0.64}},
               "encoding": {
                 "x": {"field": "slot", "type": "nominal", "scale": {"domain": ["RBD", "SCTV01B"], "paddingInner": 0, "paddingOuter": 0.12},
                       "axis": {"title": null, "labelAngle": -45, "labelAlign": "right", "labelBaseline": "middle", "ticks": false}},
                 "y": {"field": "v", "type": "quantitative", "scale": {"domain": [0, 80], "nice": false},
                       "axis": {"title": "IFNγ⁺/IL-4⁺ SFCs", "labelOverlap": false, "tickCount": 100, "values": [0, 10, 20, 30, 40, 50, 60, 70, 80],
                                "labelExpr": "datum.value % 20 == 0 ? format(datum.value, 'd') : ''", "tickDash": {"condition": {"test": "datum.value % 20 == 0", "value": [6, 0]}, "value": [3, 10]}}},
                 "stroke": {"field": "grp", "type": "nominal", "scale": {"domain": ["Adjuvant", "RBD", "SCTV01B"], "range": ["#2b3a9e", "#e8302d", "#4cbf46"]}, "legend": null}
               }},
              {"data": {"name": "eSum"}, "mark": {"type": "rule", "strokeWidth": 2},
               "encoding": {"x": {"field": "slot", "type": "nominal"}, "y": {"field": "lo", "type": "quantitative"}, "y2": {"field": "hi"},
                 "color": {"field": "grp", "type": "nominal", "scale": {"domain": ["Adjuvant", "RBD", "SCTV01B"], "range": ["#2b3a9e", "#e8302d", "#4cbf46"]}, "legend": null}}},
              {"data": {"name": "eSum"}, "mark": {"type": "tick", "thickness": 2, "size": 14},
               "encoding": {"x": {"field": "slot", "type": "nominal"}, "y": {"field": "hi", "type": "quantitative"},
                 "color": {"field": "grp", "type": "nominal", "scale": {"domain": ["Adjuvant", "RBD", "SCTV01B"], "range": ["#2b3a9e", "#e8302d", "#4cbf46"]}, "legend": null}}},
              {"data": {"name": "ePts"}, "mark": {"type": "circle", "size": 50, "opacity": 1},
               "encoding": {"x": {"field": "slot", "type": "nominal"}, "xOffset": {"field": "id", "type": "ordinal", "scale": {"type": "point", "padding": 2}},
                 "y": {"field": "v", "type": "quantitative"},
                 "color": {"field": "grp", "type": "nominal", "scale": {"domain": ["Adjuvant", "RBD", "SCTV01B"], "range": ["#2b3a9e", "#e8302d", "#4cbf46"]}, "legend": null}}},
              {"data": {"name": "eBr"}, "mark": {"type": "rule", "strokeWidth": 2, "color": "black"},
               "encoding": {"x": {"field": "from", "type": "nominal"}, "x2": {"field": "to"}, "y": {"field": "v", "type": "quantitative"}}},
              {"data": {"name": "eBr"}, "mark": {"type": "rule", "strokeWidth": 2, "color": "black"},
               "encoding": {"x": {"field": "from", "type": "nominal"}, "y": {"field": "v", "type": "quantitative"}, "y2": {"field": "ve"}}},
              {"data": {"name": "eBr"}, "mark": {"type": "rule", "strokeWidth": 2, "color": "black"},
               "encoding": {"x": {"field": "to", "type": "nominal"}, "y": {"field": "v", "type": "quantitative"}, "y2": {"field": "ve"}}},
              {"data": {"name": "eBr"}, "mark": {"type": "text", "fontSize": 18, "fontWeight": "bold", "baseline": "alphabetic", "dy": -1, "color": "black"},
               "encoding": {"x": {"field": "to", "type": "nominal", "bandPosition": 0}, "y": {"field": "v", "type": "quantitative"}, "text": {"field": "sig"}}}
            ]
          }]
        }
      ]
    }
  ]
}
